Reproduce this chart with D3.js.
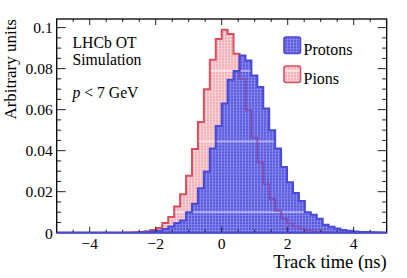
<!DOCTYPE html>
<html>
<head>
<meta charset="utf-8">
<script src="https://cdn.jsdelivr.net/npm/d3@7"></script>
<style>
  html, body { margin: 0; padding: 0; background: #fff; }
  svg { display: block; }
  text { font-family: "Liberation Serif", "Times New Roman", serif; fill: #000; }
</style>
</head>
<body>
<svg id="chart" width="407" height="278"></svg>
<script>
// ---- data ----
const binWidth = 0.18;                 // ns
const pionFirstEdge = -2.88;           // left edge of first pion bin
const pionValues = [0.0001, 0.0002, 0.0004, 0.0007, 0.0013, 0.0023, 0.0047, 0.0076, 0.0128, 0.0188,
  0.0278, 0.0408, 0.054, 0.070, 0.0843, 0.0945, 0.0989, 0.0969, 0.0872, 0.075,
  0.0597, 0.0463, 0.0343, 0.0236, 0.0165, 0.0107, 0.007, 0.0045, 0.003, 0.002,
  0.0012, 0.0008, 0.0005, 0.0003, 0.0002];
const protonFirstEdge = -2.52;         // left edge of first proton bin
const protonValues = [0.0002, 0.0003, 0.0006, 0.001, 0.0018, 0.003, 0.0047, 0.006, 0.010, 0.0141,
  0.0217, 0.0298, 0.041, 0.052, 0.063, 0.0746, 0.0788, 0.0864, 0.084, 0.0767,
  0.071, 0.0605, 0.050, 0.041, 0.032, 0.0246, 0.0193, 0.0155, 0.010, 0.0087,
  0.0068, 0.0039, 0.0029, 0.0021, 0.0013, 0.001, 0.0006, 0.0004, 0.0003, 0.0002, 0.0001];
const xTickValues = [-4, -2, 0, 2, 4];
const xTickLabels = ["\u22124", "\u22122", "0", "2", "4"];
const yTickValues = [0, 0.02, 0.04, 0.06, 0.08, 0.1];
const yTickLabels = ["0", "0.02", "0.04", "0.06", "0.08", "0.1"];
const xDomain = [-5, 5];
const yDomain = [0, 0.1042];
const legendLabels = ["Protons", "Pions"];
const infoLines = ["LHCb OT", "Simulation"];
const xTitle = "Track time (ns)";
const yTitle = "Arbitrary units";

// ---- layout ----
const L = 56.7, R = 386.7, T = 19, B = 232.7;
const svg = d3.select("#chart");
const x = d3.scaleLinear().domain(xDomain).range([L, R]);
const y = d3.scaleLinear().domain(yDomain).range([B, T]);

const defs = svg.append("defs");
defs.append("clipPath").attr("id", "plotClip")
  .append("rect").attr("x", L).attr("y", T).attr("width", R - L).attr("height", B - T);

// fill patterns (grid of small squares, with periodic seams like the original renderer)
const seamPeriod = 70.65, seamOffset = 1.2;
function makePattern(id, bg, cell, seam) {
  const p = defs.append("pattern").attr("id", id)
    .attr("patternUnits", "userSpaceOnUse")
    .attr("x", 0).attr("y", seamOffset)
    .attr("width", 3).attr("height", seamPeriod);
  p.append("rect").attr("width", 3).attr("height", seamPeriod).attr("fill", bg);
  for (let j = 0; j < 23; j++) {
    p.append("rect").attr("x", 0).attr("y", j * 3).attr("width", 2).attr("height", 2).attr("fill", cell);
  }
  p.append("rect").attr("x", 0).attr("y", 69).attr("width", 3).attr("height", seamPeriod - 69).attr("fill", seam);
}
makePattern("patBlue", "#8585ec", "#5656de", "#b8b8f4");
makePattern("patPink", "#f8d4d8", "#f0aab3", "#fbe6e8");

// histogram path builders
function stepPoints(first, vals) {
  const pts = [[x(xDomain[0]), y(0)], [x(first), y(0)]];
  vals.forEach((v, i) => {
    const x0 = first + i * binWidth, x1 = x0 + binWidth;
    pts.push([x(x0), y(v)], [x(x1), y(v)]);
  });
  const last = first + vals.length * binWidth;
  pts.push([x(last), y(0)], [x(xDomain[1]), y(0)]);
  return pts;
}
const line = d3.line();
const pionPts = stepPoints(pionFirstEdge, pionValues);
const protonPts = stepPoints(protonFirstEdge, protonValues);

defs.append("clipPath").attr("id", "protonClip")
  .append("path").attr("d", line(protonPts) + "Z");

const plot = svg.append("g").attr("clip-path", "url(#plotClip)");
plot.append("path").attr("d", line(pionPts) + "Z").attr("fill", "url(#patPink)");
plot.append("path").attr("d", line(pionPts)).attr("fill", "none")
  .attr("stroke", "#d8505c").attr("stroke-width", 2).attr("stroke-linejoin", "miter");
plot.append("path").attr("d", line(protonPts) + "Z").attr("fill", "url(#patBlue)");
// pion outline seen through the proton fill
plot.append("g").attr("clip-path", "url(#protonClip)")
  .append("path").attr("d", line(pionPts)).attr("fill", "none")
  .attr("stroke", "#8a48a8").attr("stroke-width", 1.6).attr("opacity", 0.9);
plot.append("path").attr("d", line(protonPts)).attr("fill", "none")
  .attr("stroke", "#4a4ad8").attr("stroke-width", 2);

// ---- frame and ticks ----
const axisG = svg.append("g").attr("stroke", "#222").attr("stroke-width", 1);
const xMinor = d3.range(-5, 5.001, 0.5);
xMinor.forEach(v => {
  const major = Math.abs(v / 2 - Math.round(v / 2)) < 1e-9;
  const len = major ? 6 : 3;
  const px = x(v);
  if (v <= xDomain[0] || v >= xDomain[1]) return;
  axisG.append("line").attr("x1", px).attr("x2", px).attr("y1", B).attr("y2", B - len);
  axisG.append("line").attr("x1", px).attr("x2", px).attr("y1", T).attr("y2", T + len);
});
const yMinor = d3.range(0, 0.1041, 0.005);
yMinor.forEach((v, i) => {
  const major = i % 4 === 0;
  const len = major ? 9 : 4.5;
  const py = y(v);
  if (i === 0) return;
  axisG.append("line").attr("x1", L).attr("x2", L + len).attr("y1", py).attr("y2", py);
  axisG.append("line").attr("x1", R).attr("x2", R - len).attr("y1", py).attr("y2", py);
});
svg.append("rect").attr("x", L).attr("y", T).attr("width", R - L).attr("height", B - T)
  .attr("fill", "none").attr("stroke", "#000").attr("stroke-width", 1.3);
// redraw blue baseline on top of frame
svg.append("line").attr("x1", L).attr("x2", R).attr("y1", B).attr("y2", B)
  .attr("stroke", "#4a4ad8").attr("stroke-width", 2);

// tick labels
svg.append("g").selectAll("text").data(xTickValues).join("text")
  .attr("x", d => x(d)).attr("y", 249.3).attr("text-anchor", "middle")
  .attr("font-size", 15.6).text((d, i) => xTickLabels[i]);
svg.append("g").selectAll("text").data(yTickValues).join("text")
  .attr("x", 52.8).attr("y", d => y(d) + 5.8).attr("text-anchor", "end")
  .attr("font-size", 15.6).text((d, i) => yTickLabels[i]);

// axis titles
svg.append("text").attr("x", R).attr("y", 268).attr("text-anchor", "end")
  .attr("font-size", 18.5).text(xTitle);
svg.append("text").attr("transform", `translate(15.5,${T}) rotate(-90)`)
  .attr("text-anchor", "end").attr("font-size", 17).text(yTitle);

// info text
svg.append("text").attr("x", 72.5).attr("y", 48).attr("font-size", 15.7).text(infoLines[0]);
svg.append("text").attr("x", 72.5).attr("y", 64.5).attr("font-size", 15.7).text(infoLines[1]);
const pt = svg.append("text").attr("x", 72.5).attr("y", 97.5).attr("font-size", 15.7);
pt.append("tspan").attr("font-style", "italic").text("p");
pt.append("tspan").text(" < 7 GeV");

// legend
const legend = [
  { label: legendLabels[0], fill: "url(#patBlue)", stroke: "#4a4ad8", y: 37 },
  { label: legendLabels[1], fill: "url(#patPink)", stroke: "#d8505c", y: 66 }
];
const lg = svg.append("g");
legend.forEach(d => {
  lg.append("rect").attr("x", 284).attr("y", d.y).attr("width", 16.5).attr("height", 16.5)
    .attr("rx", 2).attr("fill", d.fill).attr("stroke", d.stroke).attr("stroke-width", 1.6);
  lg.append("text").attr("x", 303.5).attr("y", d.y + 18).attr("font-size", 16).text(d.label);
});
</script>
</body>
</html>
